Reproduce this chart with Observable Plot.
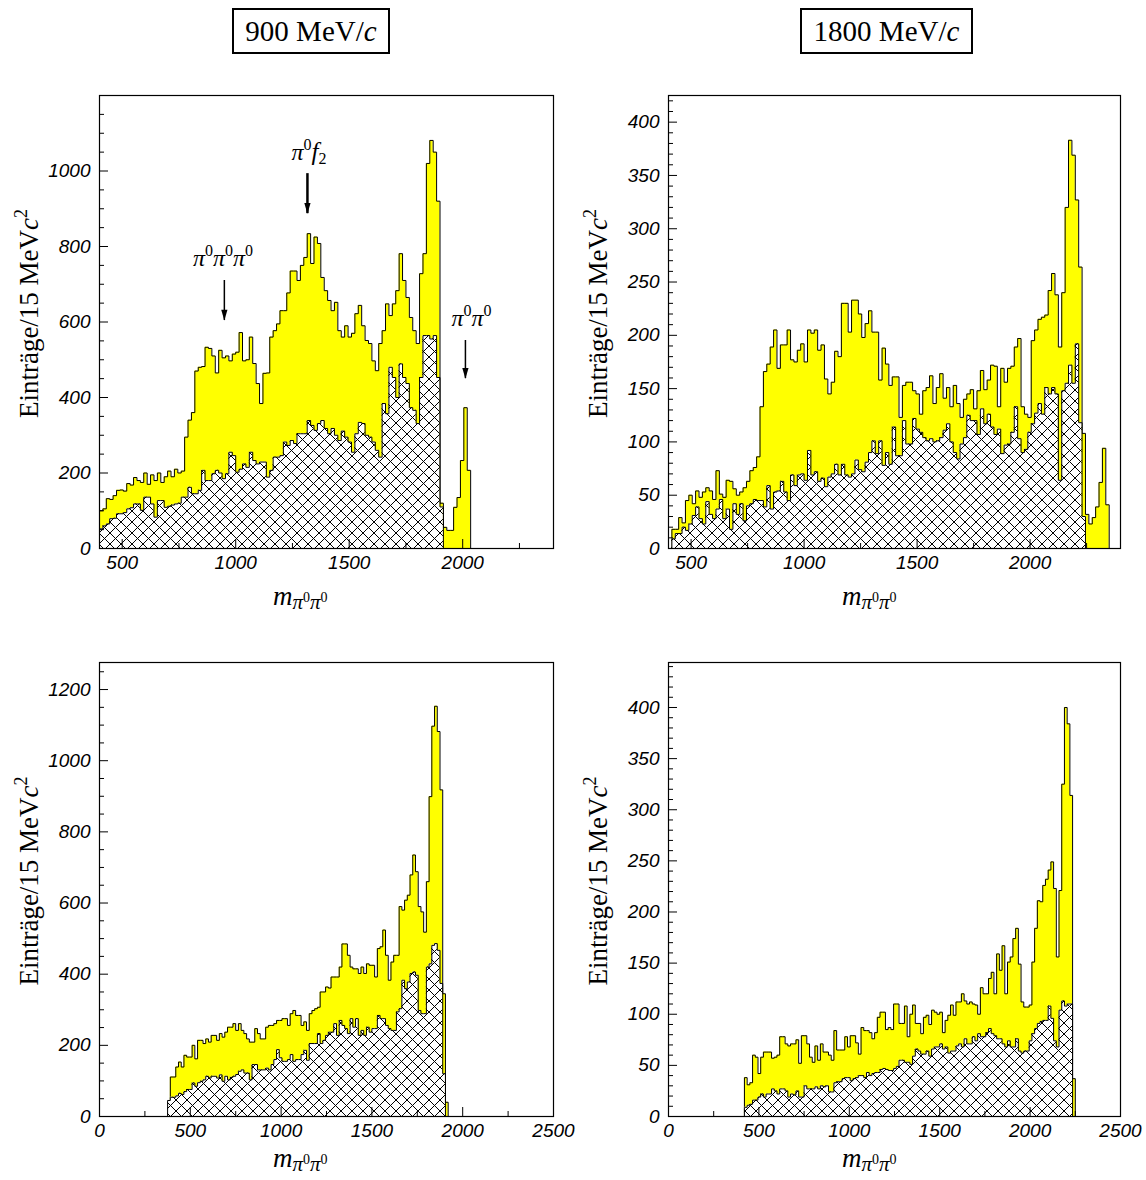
<!DOCTYPE html>
<html><head><meta charset="utf-8">
<script src="https://cdn.jsdelivr.net/npm/d3@7"></script>
<script src="https://cdn.jsdelivr.net/npm/@observablehq/plot@0.6"></script>
<style>
body{margin:0;background:#fff;}
#page{position:relative;width:1146px;height:1180px;overflow:hidden;background:#fff;}
.titlebox{position:absolute;border:2px solid #000;font-family:"Liberation Serif",serif;font-size:29px;display:flex;align-items:center;justify-content:center;box-sizing:border-box;color:#000;}
</style></head><body>
<svg width="0" height="0" style="position:absolute"><defs>
<pattern id="xhatch" patternUnits="userSpaceOnUse" width="11" height="11">
<rect width="11" height="11" fill="#fff"/>
<path d="M0,0L11,11M11,0L0,11" stroke="#000" stroke-width="1"/>
</pattern></defs></svg>
<div id="page">
<div class="titlebox" style="left:232px;top:8px;width:158px;height:46px">900&nbsp;MeV/<i>c</i></div>
<div class="titlebox" style="left:800px;top:8px;width:173px;height:46px">1800&nbsp;MeV/<i>c</i></div>
</div>
<script>
// ---------- data (15 MeV bins) ----------
const binWidth = 15;

// 900 MeV/c, upper panel
const tlStart = 400;
const tlTotal = [100,105,132,130,140,154,155,152,172,168,
188,180,175,200,170,195,180,200,175,190,
205,190,210,200,205,295,340,360,470,480,
482,533,530,510,465,525,505,510,497,515,
520,572,497,500,560,490,437,384,464,465,
560,577,595,630,630,677,735,735,710,750,
771,834,755,825,808,718,683,657,630,652,
577,560,590,560,570,622,644,590,551,543,
497,471,543,577,648,617,648,683,781,710,
665,612,577,543,728,781,1020,1081,1050,920,
120,56,48,48,109,135,233,373,207];
const tlHatched = [52,60,65,79,80,92,92,95,105,108,
118,118,101,136,136,118,83,127,127,109,
112,115,118,120,136,136,162,145,145,154,
207,180,180,198,207,200,185,198,255,246,
202,210,224,215,255,233,224,229,229,189,
207,242,242,246,282,273,286,278,304,304,
304,339,326,313,331,339,318,304,318,300,
286,311,295,282,255,304,334,331,300,295,
282,260,242,384,357,480,453,400,489,453,
437,373,366,331,453,564,564,555,564,453,
110,0,0,0,0,0,0,0,0];

// 1800 MeV/c, upper panel
const trStart = 415;
const trTotal = [18,18,29,24,45,50,42,54,48,53,
57,54,46,73,51,48,64,63,56,50,
53,57,63,73,76,86,133,166,173,189,
205,169,191,191,205,177,175,186,192,175,
205,202,205,186,191,159,145,156,185,180,
230,230,203,233,233,220,198,211,223,203,
203,158,188,173,153,161,161,123,153,156,
156,148,145,126,148,151,162,136,151,164,
141,151,133,153,136,123,140,145,149,131,
148,167,149,158,172,171,133,169,156,169,
171,189,197,133,126,123,195,205,215,217,
219,242,258,238,189,240,320,383,369,327,
264,108,32,23,29,39,62,94,41];
const trHatched = [9,14,14,20,17,23,31,39,28,23,
44,32,28,37,46,28,37,18,42,32,
42,26,40,42,46,45,45,39,59,37,
53,54,63,53,45,69,59,69,70,64,
92,69,72,63,66,58,67,70,79,69,
79,69,67,70,83,74,72,81,90,101,
89,101,78,90,79,114,87,87,120,98,
98,122,112,109,104,101,103,100,101,104,
111,117,100,90,84,98,104,125,120,120,
107,131,117,126,114,107,112,89,97,98,
109,133,103,90,93,109,117,127,136,126,
151,145,151,145,64,148,155,172,155,192,
118,30,0,0,0,0,0,0,0];

// 900 MeV/c, lower panel
const blStart = 375;
const blTotal = [45,111,111,139,153,139,172,167,167,200,
162,214,214,205,218,209,228,228,214,233,
223,237,251,251,261,242,261,242,233,218,
209,209,247,233,218,218,251,256,256,261,
270,270,275,275,256,289,298,284,284,256,
266,242,289,298,303,307,350,350,364,361,
392,392,392,420,485,485,453,420,415,415,
402,420,402,429,425,425,392,472,477,524,
453,383,434,453,453,590,580,608,622,679,
735,688,590,575,518,660,899,1097,1153,1082,
918,345,40];
const blHatched = [45,54,54,58,65,62,70,76,76,94,
85,95,99,103,113,108,113,113,108,117,
99,113,103,110,113,118,127,131,122,122,
103,146,146,131,131,131,136,131,146,160,
188,165,155,155,160,174,155,160,160,174,
186,158,205,205,205,233,205,214,228,237,
237,261,228,270,256,247,233,275,251,275,
228,242,228,251,237,247,247,284,275,275,
256,247,242,242,294,303,383,359,378,402,
406,397,298,289,289,420,429,481,486,467,
374,120,0];

// 1800 MeV/c, lower panel
const brStart = 420;
const brTotal = [38,31,33,60,58,42,58,63,63,63,
57,58,60,78,78,71,69,71,71,75,
52,79,79,71,58,53,69,55,71,63,
63,60,55,84,65,65,65,78,68,79,
79,72,61,87,84,84,82,76,82,97,
102,102,85,87,85,110,110,91,91,108,
78,100,109,91,91,81,97,99,90,104,
102,100,102,82,94,99,109,99,112,112,
120,113,110,112,110,109,100,126,120,120,
135,141,120,159,143,167,120,151,156,174,
184,149,112,107,107,109,151,184,211,210,
226,232,241,249,223,156,221,325,400,384,
314,37];
const brHatched = [9,11,12,16,16,19,22,19,22,22,
27,25,22,27,27,25,19,22,21,25,
19,19,30,27,27,27,29,27,30,29,
30,24,24,33,34,34,37,38,38,35,
37,38,40,40,38,43,40,42,43,43,
46,47,46,45,45,47,49,55,55,53,
53,51,59,66,64,61,61,64,59,66,
68,68,71,66,68,62,64,64,69,71,
68,76,71,71,78,74,81,78,78,82,
86,81,79,76,76,71,68,74,68,68,
76,64,62,64,64,74,81,86,91,93,
94,94,108,96,74,68,104,113,108,110,
110,0];

// axis ticks
const xLabelsTop = [500,1000,1500,2000];
const xMinorTop = [750,1250,1750,2250];
const xLabelsBottom = [0,500,1000,1500,2000,2500];
const xMinorBottom = [250,750,1250,1750,2250];
const yLabelsTL = [0,200,400,600,800,1000];
const yLabelsBL = [0,200,400,600,800,1000,1200];
const yLabelsR = [0,50,100,150,200,250,300,350,400];

// ---------- drawing ----------
const SERIF = "'Liberation Serif','DejaVu Serif',serif";
const SANS = "'Liberation Sans',Arial,sans-serif";

function steps(start, values) {
  const pts = [{x: start, y: 0}];
  values.forEach((v, i) => pts.push({x: start + i * binWidth, y: v}));
  pts.push({x: start + values.length * binWidth, y: 0});
  return pts;
}
function range(a, b, s) { const r = []; for (let v = a; v <= b + 1e-9; v += s) r.push(v); return r; }

const arrowHead = {
  draw(ctx, size) {
    const s = Math.sqrt(size);
    ctx.moveTo(0, 0);
    ctx.lineTo(-s * 0.32, -s * 1.1);
    ctx.lineTo(s * 0.32, -s * 1.1);
    ctx.closePath();
  }
};

function mathText(svg, x, y, parts, anchor) {
  const t = d3.select(svg).append("text").attr("x", x).attr("y", y)
    .attr("text-anchor", anchor || "start").attr("font-family", SERIF).attr("fill", "#000");
  for (const p of parts) {
    const s = t.append("tspan").text(p.t).attr("font-size", p.s);
    if (p.i) s.attr("font-style", "italic");
    if (p.dy) s.attr("dy", p.dy);
  }
  return t;
}

function panel(cfg) {
  const W = 573, ml = 99;
  const mr = cfg.mr, mt = 35, mb = cfg.mb, H = cfg.height;
  const innerH = H - mt - mb, innerW = W - ml - mr;
  const tot = steps(cfg.start, cfg.total), hat = steps(cfg.start, cfg.hatched);
  const font = {fontSize: 19, fontStyle: "italic", fontFamily: SANS, tickFormat: d => String(d), label: null};
  const marks = [
    Plot.areaY(tot, {x: "x", y: "y", curve: "step-after", fill: "#ffff00"}),
    Plot.lineY(tot, {x: "x", y: "y", curve: "step-after", stroke: "#000", strokeWidth: 1}),
    Plot.areaY(hat, {x: "x", y: "y", curve: "step-after", fill: "url(#xhatch)"}),
    Plot.lineY(hat, {x: "x", y: "y", curve: "step-after", stroke: "#000", strokeWidth: 1}),
    Plot.ruleX(cfg.xLabels, {x: d => d, insetTop: innerH - 9, stroke: "#000"}),
    Plot.ruleX(cfg.xMinor, {x: d => d, insetTop: innerH - 5, stroke: "#000"}),
    Plot.ruleY(cfg.yLabels, {y: d => d, insetRight: innerW - 9, stroke: "#000"}),
    Plot.ruleY(cfg.yMinor, {y: d => d, insetRight: innerW - 5, stroke: "#000"}),
    Plot.axisX({ticks: cfg.xLabels, tickSize: 0, tickPadding: 7, ...font}),
    Plot.axisY({ticks: cfg.yLabels, tickSize: 0, tickPadding: 9, ...font}),
    Plot.frame({stroke: "#000", strokeWidth: 1.2})
  ];
  if (cfg.arrows) {
    marks.push(Plot.ruleX(cfg.arrows, {x: "x", y1: "y1", y2: "y2", stroke: "#000", strokeWidth: "w"}));
    marks.push(Plot.dot(cfg.arrows, {x: "x", y: "y2", symbol: arrowHead, r: 5.5, fill: "#000", stroke: "none"}));
  }
  const svg = Plot.plot({
    width: W, height: H, marginLeft: ml, marginRight: mr, marginTop: mt, marginBottom: mb,
    x: {domain: cfg.xDomain}, y: {domain: cfg.yDomain},
    style: {background: "transparent", overflow: "visible"},
    marks
  });
  // y label
  const yl = d3.select(svg).append("text")
    .attr("transform", `translate(38,${mt + innerH / 2 - 8}) rotate(-90)`)
    .attr("text-anchor", "middle").attr("font-family", SERIF).attr("font-size", 27).attr("fill", "#000");
  yl.append("tspan").text("Einträge/15 MeV");
  yl.append("tspan").attr("font-style", "italic").text("c");
  yl.append("tspan").attr("font-size", 18).attr("dy", -11).text("2");
  // x label
  mathText(svg, ml + 174, cfg.xLabelY, [
    {t: "m", s: 27, i: true},
    {t: "π", s: 21, i: true, dy: 4},
    {t: "0", s: 14, dy: -7},
    {t: "π", s: 21, i: true, dy: 7},
    {t: "0", s: 14, dy: -7}
  ]);
  if (cfg.notes) {
    const sx = svg.scale("x"), sy = svg.scale("y");
    for (const n of cfg.notes) mathText(svg, sx.apply(n.x), sy.apply(n.y), n.parts, n.anchor);
  }
  svg.style.position = "absolute";
  svg.style.left = cfg.left + "px";
  svg.style.top = cfg.top + "px";
  document.getElementById("page").appendChild(svg);
}

const pi = {s: 24, i: true};
const sup = 16;
panel({
  left: 0, top: 60, height: 560, mb: 72, mr: 20, xLabelY: 545,
  start: tlStart, total: tlTotal, hatched: tlHatched,
  xDomain: [400, 2400], yDomain: [0, 1200],
  xLabels: xLabelsTop, xMinor: xMinorTop, yLabels: yLabelsTL, yMinor: range(50, 1150, 50).filter(v => v % 200),
  arrows: [
    {x: 950, y1: 710, y2: 604, w: 1.5},
    {x: 1316, y1: 993, y2: 887, w: 2.5},
    {x: 2012, y1: 551, y2: 450, w: 1.5}
  ],
  notes: [
    {x: 946, y: 747, anchor: "middle", parts: [{t: "π", ...pi}, {t: "0", s: sup, dy: -10}, {t: "π", ...pi, dy: 10}, {t: "0", s: sup, dy: -10}, {t: "π", ...pi, dy: 10}, {t: "0", s: sup, dy: -10}]},
    {x: 1248, y: 1028, anchor: "start", parts: [{t: "π", ...pi}, {t: "0", s: sup, dy: -10}, {t: "f", s: 25, i: true, dy: 10}, {t: "2", s: sup, dy: 4}]},
    {x: 1953, y: 588, anchor: "start", parts: [{t: "π", ...pi}, {t: "0", s: sup, dy: -10}, {t: "π", ...pi, dy: 10}, {t: "0", s: sup, dy: -10}]}
  ]
});
panel({
  left: 569, top: 60, height: 560, mb: 72, mr: 22, xLabelY: 545,
  start: trStart, total: trTotal, hatched: trHatched,
  xDomain: [400, 2400], yDomain: [0, 425],
  xLabels: xLabelsTop, xMinor: xMinorTop, yLabels: yLabelsR, yMinor: range(10, 420, 10).filter(v => v % 50)
});
panel({
  left: 0, top: 627, height: 553, mb: 64, mr: 20, xLabelY: 540,
  start: blStart, total: blTotal, hatched: blHatched,
  xDomain: [0, 2500], yDomain: [0, 1276],
  xLabels: xLabelsBottom, xMinor: xMinorBottom, yLabels: yLabelsBL, yMinor: range(50, 1250, 50).filter(v => v % 200)
});
panel({
  left: 569, top: 627, height: 553, mb: 64, mr: 22, xLabelY: 540,
  start: brStart, total: brTotal, hatched: brHatched,
  xDomain: [0, 2500], yDomain: [0, 444],
  xLabels: xLabelsBottom, xMinor: xMinorBottom, yLabels: yLabelsR, yMinor: range(10, 440, 10).filter(v => v % 50)
});
</script>
</body></html>
